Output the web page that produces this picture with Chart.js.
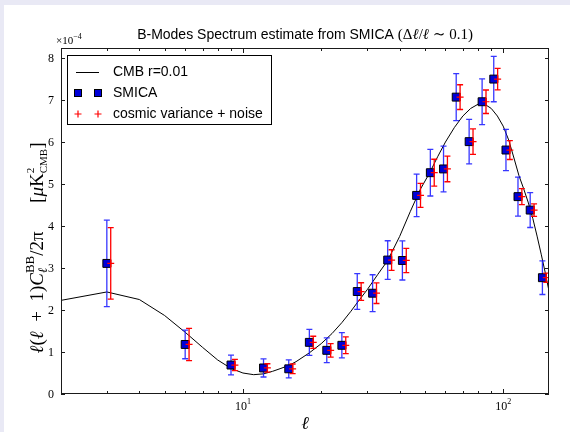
<!DOCTYPE html>
<html>
<head>
<meta charset="utf-8">
<script src="https://cdn.jsdelivr.net/npm/chart.js@4.4.1/dist/chart.umd.min.js"></script>
<style>
  html, body { margin: 0; padding: 0; background: #e9e9f5; }
  #wrap { position: absolute; left: 0; top: 0; width: 570px; height: 432px; }
</style>
</head>
<body>
<div id="wrap"><canvas id="bmodes" width="570" height="432"></canvas></div>
<script>
// SMICA bins (multipole centres)
const ell = [3, 6, 9, 12, 15, 18, 21, 24, 27.5, 31.5, 36, 41, 46.5, 52.5, 59, 66, 74, 83, 92, 102.5, 114, 127, 141.5];
// SMICA estimate, in units of 1e-4 uK^2
const smica = [3.11, 1.18, 0.69, 0.62, 0.60, 1.23, 1.04, 1.16, 2.44, 2.40, 3.19, 3.18, 4.73, 5.27, 5.36, 7.07, 6.01, 6.96, 7.50, 5.81, 4.70, 4.38, 2.77];
// blue bars: SMICA error (half width)
const smicaErr = [1.03, 0.34, 0.235, 0.215, 0.215, 0.31, 0.295, 0.30, 0.425, 0.44, 0.46, 0.465, 0.505, 0.555, 0.545, 0.56, 0.53, 0.545, 0.54, 0.49, 0.465, 0.415, 0.40];
// red bars: cosmic variance + noise (half width)
const cvErr = [0.85, 0.385, 0.135, 0.10, 0.115, 0.145, 0.16, 0.20, 0.21, 0.245, 0.245, 0.29, 0.285, 0.32, 0.305, 0.295, 0.305, 0.28, 0.255, 0.225, 0.19, 0.15, 0.11];

// theory curve, CMB r=0.01
const cmbEll = [2, 3, 4, 5, 6, 7, 8, 9, 10, 11, 12, 13, 14, 15, 16, 18, 20, 22, 24, 26, 28, 30, 33, 36, 40, 44, 48, 52, 56, 60, 65, 70, 75, 80, 85, 90, 95, 100, 105, 110, 115, 120, 125, 130, 135, 140, 145, 150];
const cmbDl = [2.23, 2.43, 2.25, 1.87, 1.47, 1.11, 0.81, 0.61, 0.50, 0.46, 0.48, 0.54, 0.61, 0.68, 0.77, 0.98, 1.20, 1.44, 1.70, 1.97, 2.24, 2.48, 2.85, 3.18, 3.75, 4.35, 4.87, 5.25, 5.65, 6.00, 6.35, 6.62, 6.80, 6.90, 6.90, 6.80, 6.62, 6.38, 6.05, 5.62, 5.20, 4.88, 4.55, 4.18, 3.76, 3.33, 2.90, 2.45];

const yTicks = [0, 1, 2, 3, 4, 5, 6, 7, 8];
const xMajor = [10, 100];
const xMajorExp = ['1', '2'];
const xMinor = [2, 3, 4, 5, 6, 7, 8, 9, 20, 30, 40, 50, 60, 70, 80, 90];

const cvShift = 1.035;  // red bars drawn just right of the blue ones
const serif = '"Liberation Serif", "DejaVu Serif", serif';
const sans = '"Liberation Sans", Arial, sans-serif';

// draws a row of text pieces; a piece with sup/sub is stacked
function runsWidth(ctx, runs) {
    let w = 0;
    runs.forEach(r => {
        ctx.font = r.font;
        if (r.sup !== undefined) {
            w += Math.max(ctx.measureText(r.sup).width, ctx.measureText(r.sub).width);
        } else {
            w += ctx.measureText(r.t).width;
        }
    });
    return w;
}
function drawRuns(ctx, runs, x, y, center) {
    let cx = center ? x - runsWidth(ctx, runs) / 2 : x;
    ctx.textAlign = 'left';
    ctx.textBaseline = 'alphabetic';
    runs.forEach(r => {
        ctx.font = r.font;
        if (r.sup !== undefined) {
            ctx.fillText(r.sup, cx, y + r.dySup);
            if (r.subFont) ctx.font = r.subFont;
            ctx.fillText(r.sub, cx, y + r.dySub);
            ctx.font = r.font;
            cx += Math.max(ctx.measureText(r.sup).width, ctx.measureText(r.sub).width);
        } else {
            ctx.fillText(r.t, cx, y + (r.dy || 0));
            cx += ctx.measureText(r.t).width;
        }
    });
}

function drawBars(chart, xs, ys, errs, color, cap) {
    const {ctx, chartArea: a, scales: {x, y}} = chart;
    ctx.save();
    ctx.beginPath();
    ctx.rect(a.left, a.top, a.right - a.left, a.bottom - a.top);
    ctx.clip();
    ctx.strokeStyle = color;
    ctx.lineWidth = 1.3;
    ctx.beginPath();
    xs.forEach((v, i) => {
        const px = x.getPixelForValue(v);
        const top = y.getPixelForValue(ys[i] + errs[i]);
        const bot = y.getPixelForValue(ys[i] - errs[i]);
        ctx.moveTo(px, top); ctx.lineTo(px, bot);
        ctx.moveTo(px - cap, top); ctx.lineTo(px + cap, top);
        ctx.moveTo(px - cap, bot); ctx.lineTo(px + cap, bot);
    });
    ctx.stroke();
    ctx.restore();
}

const decor = {
    id: 'decor',
    beforeDraw(chart) {
        const ctx = chart.ctx;
        ctx.save();
        ctx.fillStyle = '#e9e9f5';
        ctx.fillRect(0, 0, chart.width, chart.height);
        ctx.fillStyle = '#ffffff';
        ctx.fillRect(4, 5, chart.width - 4, chart.height - 5);
        ctx.restore();
    },
    beforeDatasetDraw(chart, args) {
        const label = chart.data.datasets[args.index].label;
        if (label === 'SMICA') {
            drawBars(chart, ell, smica, smicaErr, 'rgba(20,20,255,0.85)', 3);
        } else if (label === 'cosmic variance + noise') {
            drawBars(chart, ell.map(l => l * cvShift), smica, cvErr, '#ff0000', 3);
        }
    },
    afterDraw(chart) {
        const {ctx, chartArea: a, scales: {x, y}} = chart;
        ctx.save();
        ctx.strokeStyle = '#1a1a1a';
        ctx.lineWidth = 1;
        ctx.strokeRect(a.left + 0.5, a.top + 0.5, a.right - a.left - 1, a.bottom - a.top - 1);

        // ticks, pointing inward on all four sides
        ctx.beginPath();
        yTicks.forEach(v => {
            const py = Math.round(y.getPixelForValue(v)) + 0.5;
            ctx.moveTo(a.left, py); ctx.lineTo(a.left + 4, py);
            ctx.moveTo(a.right, py); ctx.lineTo(a.right - 4, py);
        });
        xMajor.forEach(v => {
            const px = Math.round(x.getPixelForValue(v)) + 0.5;
            ctx.moveTo(px, a.bottom); ctx.lineTo(px, a.bottom - 5);
            ctx.moveTo(px, a.top); ctx.lineTo(px, a.top + 5);
        });
        xMinor.forEach(v => {
            const px = Math.round(x.getPixelForValue(v)) + 0.5;
            ctx.moveTo(px, a.bottom); ctx.lineTo(px, a.bottom - 3);
            ctx.moveTo(px, a.top); ctx.lineTo(px, a.top + 3);
        });
        ctx.stroke();

        // tick labels
        ctx.fillStyle = '#000';
        ctx.font = '12px ' + serif;
        ctx.textAlign = 'right';
        ctx.textBaseline = 'middle';
        yTicks.forEach(v => ctx.fillText(String(v), a.left - 7, y.getPixelForValue(v) + 1));
        xMajor.forEach((v, i) => {
            drawRuns(ctx, [
                {t: '10', font: '12px ' + serif},
                {t: xMajorExp[i], font: '8px ' + serif, dy: -6}
            ], x.getPixelForValue(v), a.bottom + 16, true);
        });
        drawRuns(ctx, [
            {t: '\u00d710', font: '11px ' + serif},
            {t: '\u22124', font: '8px ' + serif, dy: -5}
        ], a.left - 5, a.top - 4, false);

        // title
        drawRuns(ctx, [
            {t: 'B-Modes Spectrum estimate from SMICA ', font: '14px ' + sans},
            {t: '(\u0394', font: '15px ' + serif},
            {t: '\u2113', font: 'italic 15px ' + serif},
            {t: '/', font: '15px ' + serif},
            {t: '\u2113', font: 'italic 15px ' + serif},
            {t: ' \u223c 0.1)', font: '15px ' + serif}
        ], (a.left + a.right) / 2, a.top - 9, true);

        // x label
        ctx.font = 'italic 18px ' + serif;
        ctx.textAlign = 'center';
        ctx.textBaseline = 'alphabetic';
        ctx.fillText('\u2113', (a.left + a.right) / 2, a.bottom + 35);

        // y label, rotated
        const big = '19px ' + serif, bigI = 'italic 19px ' + serif;
        ctx.save();
        ctx.translate(43, 248);
        ctx.rotate(-Math.PI / 2);
        drawRuns(ctx, [
            {t: '\u2113', font: bigI},
            {t: '(', font: big},
            {t: '\u2113', font: bigI},
            {t: '\u2002+\u20021)', font: big},
            {t: 'C', font: bigI},
            {sup: 'BB', sub: '\u2113', font: '13px ' + serif, subFont: 'italic 13px ' + serif, dySup: -9, dySub: 4},
            {t: '/2\u03c0', font: big},
            {t: '\u2003\u2002[', font: big},
            {t: '\u03bc', font: bigI},
            {t: 'K', font: big},
            {sup: '2', sub: 'CMB', font: '11px ' + serif, dySup: -9, dySub: 4},
            {t: ']', font: big}
        ], 0, 0, true);
        ctx.restore();

        // legend
        const lx = 67, ly = 55, lw = 204, lh = 69;
        ctx.fillStyle = '#fff';
        ctx.fillRect(lx, ly, lw, lh);
        ctx.strokeStyle = '#000';
        ctx.lineWidth = 1;
        ctx.strokeRect(lx + 0.5, ly + 0.5, lw, lh);
        ctx.beginPath();
        ctx.moveTo(76, 72.5); ctx.lineTo(99, 72.5);
        ctx.stroke();
        [78, 98].forEach(px => {
            ctx.fillStyle = '#0000d8';
            ctx.fillRect(px - 3.5, 89.5, 7, 7);
            ctx.strokeRect(px - 3.5, 89.5, 7, 7);
        });
        ctx.strokeStyle = '#ff0000';
        ctx.lineWidth = 1.2;
        ctx.beginPath();
        [78, 98].forEach(px => {
            ctx.moveTo(px - 3.5, 114); ctx.lineTo(px + 3.5, 114);
            ctx.moveTo(px, 110.5); ctx.lineTo(px, 117.5);
        });
        ctx.stroke();
        ctx.fillStyle = '#000';
        ctx.font = '14px ' + sans;
        ctx.textAlign = 'left';
        ctx.textBaseline = 'middle';
        ctx.fillText('CMB r=0.01', 113, 72);
        ctx.fillText('SMICA', 113, 93);
        ctx.fillText('cosmic variance + noise', 113, 114);
        ctx.restore();
    }
};

new Chart(document.getElementById('bmodes'), {
    type: 'scatter',
    data: {
        datasets: [
            {
                label: 'cosmic variance + noise',
                data: ell.map((l, i) => ({x: l * cvShift, y: smica[i]})),
                pointStyle: 'cross',
                pointRadius: 3.5,
                borderColor: '#ff0000',
                borderWidth: 1.2,
                order: 1
            },
            {
                label: 'SMICA',
                data: ell.map((l, i) => ({x: l, y: smica[i]})),
                pointStyle: 'rect',
                pointRadius: 5.6,
                backgroundColor: '#0000d8',
                borderColor: '#000',
                borderWidth: 1,
                order: 2
            },
            {
                label: 'CMB r=0.01',
                data: cmbEll.map((l, i) => ({x: l, y: cmbDl[i]})),
                showLine: true,
                borderColor: '#000',
                borderWidth: 1,
                pointRadius: 0,
                tension: 0,
                order: 3
            }
        ]
    },
    options: {
        responsive: false,
        animation: false,
        events: [],
        layout: { padding: { left: 61, right: 21, top: 48, bottom: 38 } },
        plugins: { legend: { display: false }, tooltip: { enabled: false }, title: { display: false } },
        scales: {
            x: { type: 'logarithmic', min: 2, max: 150, display: false },
            y: { min: 0, max: 8.24, display: false }
        }
    },
    plugins: [decor]
});
</script>
</body>
</html>
